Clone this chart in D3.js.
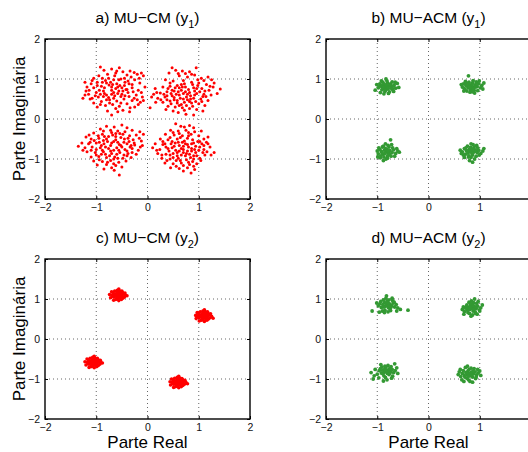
<!DOCTYPE html>
<html lang="pt">
<head>
    <meta charset="UTF-8">
    <title>MU-CM vs MU-ACM</title>
    <script src="https://d3js.org/d3.v7.min.js"></script>
    <style>
        body { margin: 0; background: #fff; }
        svg { display: block; font-family: "Liberation Sans", Arial, sans-serif; }
        .tick text { font-size: 10.5px; fill: #111; }
        .grid { stroke: #666; stroke-width: 1; stroke-dasharray: 1,3; }
        .frame { fill: none; stroke: #000; stroke-width: 1.4; }
    </style>
</head>
<body>
<div id="chart"></div>
<script>
// eixos
const ticks = [-2, -1, 0, 1, 2];
const gridTicks = [-1, 0, 1];
const titles = ["a) MU\u2212CM (y", "b) MU\u2212ACM (y", "c) MU\u2212CM (y", "d) MU\u2212ACM (y"];
const subs = ["1", "1", "2", "2"];
const colors = ["#ff0000", "#339933", "#ff0000", "#339933"];
const radii = [1.5, 1.9, 1.8, 1.9];

// a) MU-CM (y1)
const ptsA = [
[-0.92,1.30],[-0.85,1.22],[-0.70,1.25],[-0.55,1.28],[-0.48,1.18],[-0.62,1.15],[-0.78,1.12],[-0.95,1.08],[-1.05,1.02],[-0.40,1.10],[-0.32,1.05],[-0.20,1.12],[-0.12,1.15],[-0.08,1.08],[-0.25,0.98],[-0.38,0.95],[-0.52,1.00],[-0.66,0.98],[-0.82,0.96],[-0.98,0.92],[-1.10,0.88],[-1.18,0.80],[-1.05,0.78],[-0.90,0.82],[-0.75,0.85],[-0.60,0.88],[-0.45,0.84],[-0.30,0.86],[-0.15,0.90],[-0.05,0.80],[-0.18,0.72],[-0.28,0.68],[-0.42,0.74],[-0.56,0.70],[-0.70,0.72],[-0.86,0.70],[-1.00,0.66],[-1.15,0.62],[-1.26,0.52],[-1.12,0.50],[-0.96,0.55],[-0.80,0.60],[-0.64,0.58],[-0.50,0.62],[-0.36,0.56],[-0.22,0.60],[-0.10,0.55],[-0.14,0.42],[-0.30,0.46],[-0.46,0.50],[-0.60,0.45],[-0.74,0.48],[-0.90,0.44],[-1.05,0.40],[-0.98,0.30],[-0.82,0.34],[-0.68,0.36],[-0.55,0.32],[-0.40,0.38],[-0.25,0.30],[-0.48,0.22],[-0.62,0.26],[-0.78,0.20],[-0.35,0.18],[-0.70,0.10],[-0.88,0.92],[-0.72,0.92],[-0.58,0.80],[-0.44,0.92],[-0.66,0.66],[-0.52,0.56],[-0.84,0.78],[-0.94,0.72],[-0.76,0.54],[-0.62,0.76],[-0.38,0.66],[-0.30,0.78],[-0.48,0.70],[-0.56,0.98],[-0.88,1.02],[-1.02,0.58],[-1.20,0.70],[-0.20,0.48],[-0.12,0.66],[-0.34,1.20],[-0.64,1.08],[-0.80,0.48],[-0.92,0.62],[-0.70,0.80],[-0.54,0.84],
[-1.22,0.92],[-1.08,0.96],[-0.76,1.02],[-0.60,1.20],[-0.45,1.02],[-0.26,1.16],[-0.16,1.02],[-0.36,0.88],[-0.50,0.78],[-0.68,0.86],[-0.98,0.84],[-1.14,0.72],[-0.84,0.64],[-0.70,0.62],[-0.58,0.64],[-0.44,0.58],[-0.26,0.52],[-0.08,0.46],[-0.18,0.36],[-0.34,0.28],[-0.52,0.40],[-0.66,0.52],[-0.86,0.56],[-1.08,0.52],[-1.22,0.60],[-0.92,0.36],[-0.74,0.40],[-0.58,0.18],[-0.40,0.74],[-0.80,0.90],
[0.55,1.22],[0.68,1.20],[0.82,1.18],[0.95,1.28],[0.42,1.15],[0.62,1.08],[0.78,1.05],[0.92,1.10],[1.05,1.02],[1.18,1.05],[1.25,0.98],[0.35,0.98],[0.50,0.95],[0.70,0.96],[0.86,0.92],[1.00,0.90],[1.15,0.86],[1.30,0.90],[1.42,0.75],[0.30,0.80],[0.44,0.82],[0.58,0.84],[0.74,0.80],[0.90,0.78],[1.06,0.76],[1.20,0.72],[0.15,0.76],[0.25,0.65],[0.38,0.68],[0.52,0.70],[0.66,0.72],[0.82,0.66],[0.96,0.64],[1.10,0.62],[1.24,0.60],[0.08,0.55],[0.20,0.52],[0.34,0.55],[0.48,0.58],[0.62,0.60],[0.76,0.55],[0.90,0.52],[1.04,0.50],[1.18,0.46],[0.30,0.42],[0.44,0.45],[0.58,0.46],[0.72,0.42],[0.86,0.40],[1.00,0.38],[1.12,0.34],[0.05,0.28],[0.40,0.32],[0.54,0.30],[0.68,0.28],[0.82,0.26],[0.96,0.24],[1.08,0.20],[0.60,0.16],[0.75,0.12],[0.90,0.10],[0.50,0.20],[0.64,0.52],[0.78,0.48],[0.70,0.64],[0.84,0.58],[0.56,0.62],[0.92,0.70],[0.48,0.72],[0.62,0.78],[0.80,0.74],[1.02,0.68],[0.38,0.58],[0.26,0.48],[0.12,0.62],[0.72,0.88],[0.88,0.86],[0.58,0.40],[0.94,0.44],[1.14,0.56],[0.66,0.36],[0.76,0.34],[0.44,0.90],[1.22,0.82],[0.98,0.98],[0.86,1.12],[0.74,0.68],[0.66,0.86],[0.52,0.48],[0.84,0.50],
[0.48,1.28],[0.60,1.14],[0.74,1.14],[1.10,0.96],[1.28,0.80],[0.40,0.76],[0.54,0.78],[0.68,0.80],[0.96,0.76],[1.12,0.70],[0.18,0.66],[0.32,0.62],[0.46,0.64],[0.60,0.68],[0.78,0.62],[0.92,0.60],[1.08,0.56],[0.16,0.42],[0.38,0.48],[0.52,0.54],[0.70,0.50],[0.82,0.44],[1.06,0.44],[0.46,0.38],[0.62,0.34],[0.88,0.32],[0.72,0.22],[0.36,0.24],[1.36,0.64],[0.98,0.84],
[-0.80,-0.18],[-0.65,-0.20],[-0.50,-0.15],[-0.40,-0.22],[-0.92,-0.25],[-0.72,-0.28],[-0.58,-0.30],[-0.30,-0.28],[-0.15,-0.32],[-1.05,-0.35],[-0.88,-0.38],[-0.68,-0.40],[-0.48,-0.38],[-0.35,-0.42],[-0.22,-0.40],[-0.08,-0.38],[-1.20,-0.45],[-1.10,-0.50],[-0.95,-0.48],[-0.80,-0.50],[-0.62,-0.52],[-0.45,-0.50],[-0.28,-0.52],[-0.12,-0.55],[-1.28,-0.60],[-1.15,-0.62],[-1.00,-0.60],[-0.85,-0.62],[-0.70,-0.60],[-0.55,-0.64],[-0.40,-0.62],[-0.25,-0.65],[-0.10,-0.66],[-1.35,-0.68],[-1.22,-0.72],[-1.08,-0.70],[-0.92,-0.72],[-0.76,-0.74],[-0.60,-0.72],[-0.44,-0.76],[-0.30,-0.74],[-0.18,-0.78],[-1.18,-0.82],[-1.02,-0.84],[-0.86,-0.82],[-0.70,-0.86],[-0.54,-0.84],[-0.38,-0.86],[-0.22,-0.88],[-1.10,-0.95],[-0.95,-0.94],[-0.80,-0.96],[-0.64,-0.95],[-0.48,-0.98],[-0.32,-0.96],[-1.05,-1.05],[-0.88,-1.06],[-0.72,-1.04],[-0.56,-1.08],[-0.42,-1.05],[-0.98,-1.15],[-0.80,-1.14],[-0.62,-1.16],[-0.50,-1.20],[-0.85,-1.25],[-0.65,-1.28],[-0.55,-1.40],[-0.72,-0.66],[-0.58,-0.58],[-0.66,-0.78],[-0.82,-0.70],[-0.50,-0.70],[-0.36,-0.56],[-0.94,-0.58],[-0.78,-0.56],[-0.62,-0.44],[-0.46,-0.90],[-0.74,-0.92],[-0.90,-0.88],[-1.12,-0.58],[-0.26,-0.60],[-0.16,-0.48],[-0.54,-0.36],[-0.70,-0.34],[-0.84,-0.44],[-0.40,-0.80],[-0.60,-0.88],[-1.00,-0.76],[-0.30,-0.84],[-0.66,-1.00],
[-0.86,-0.30],[-0.62,-0.36],[-0.44,-0.32],[-1.14,-0.40],[-0.96,-0.42],[-0.76,-0.44],[-0.52,-0.46],[-0.38,-0.48],[-1.04,-0.54],[-0.86,-0.54],[-0.66,-0.56],[-0.46,-0.58],[-0.32,-0.66],[-1.26,-0.78],[-1.10,-0.78],[-0.88,-0.78],[-0.72,-0.80],[-0.56,-0.78],[-0.34,-0.70],[-0.14,-0.70],[-1.00,-0.90],[-0.82,-0.88],[-0.58,-0.98],[-0.40,-0.92],[-0.94,-1.02],[-0.78,-1.08],[-0.66,-1.12],[-0.90,-0.66],[-0.52,-0.66],[-0.70,-1.22],
[0.55,-0.12],[0.65,-0.18],[0.82,-0.16],[0.90,-0.22],[0.45,-0.28],[0.60,-0.30],[0.75,-0.28],[1.05,-0.30],[0.35,-0.38],[0.52,-0.40],[0.68,-0.42],[0.85,-0.38],[1.00,-0.42],[1.18,-0.45],[0.25,-0.50],[0.40,-0.52],[0.58,-0.50],[0.72,-0.55],[0.88,-0.52],[1.02,-0.56],[1.15,-0.58],[0.15,-0.62],[0.30,-0.64],[0.46,-0.62],[0.62,-0.66],[0.78,-0.64],[0.94,-0.68],[1.10,-0.66],[1.22,-0.70],[0.10,-0.72],[0.24,-0.76],[0.40,-0.74],[0.55,-0.78],[0.70,-0.76],[0.86,-0.80],[1.00,-0.78],[1.16,-0.82],[1.30,-0.84],[0.20,-0.86],[0.36,-0.88],[0.50,-0.86],[0.66,-0.90],[0.82,-0.88],[0.96,-0.92],[1.12,-0.90],[0.28,-0.98],[0.44,-1.00],[0.60,-0.98],[0.76,-1.02],[0.90,-1.00],[1.04,-1.04],[0.34,-1.10],[0.50,-1.12],[0.66,-1.10],[0.82,-1.14],[0.96,-1.12],[0.45,-1.22],[0.62,-1.24],[0.78,-1.22],[0.92,-1.26],[0.85,-1.35],[0.70,-1.30],[0.60,-0.58],[0.74,-0.62],[0.66,-0.74],[0.80,-0.70],[0.52,-0.68],[0.90,-0.60],[0.70,-0.84],[0.58,-0.92],[0.84,-0.96],[0.48,-0.56],[0.64,-0.46],[0.78,-0.48],[0.94,-0.84],[1.06,-0.62],[0.36,-0.70],[0.42,-0.80],[0.74,-0.92],[0.88,-1.06],[0.56,-1.04],[0.70,-1.16],[0.98,-0.56],[0.62,-0.36],[0.80,-0.34],[0.30,-0.56],[1.10,-0.76],[0.50,-0.96],[0.86,-0.74],[0.68,-0.58],
[0.72,-0.20],[0.50,-0.34],[0.92,-0.32],[0.44,-0.46],[0.80,-0.42],[1.10,-0.50],[0.34,-0.62],[0.54,-0.60],[0.70,-0.68],[0.86,-0.62],[1.02,-0.70],[1.18,-0.62],[0.18,-0.78],[0.48,-0.72],[0.62,-0.80],[0.78,-0.80],[0.92,-0.76],[1.08,-0.84],[1.24,-0.90],[0.28,-0.90],[0.44,-0.90],[0.58,-0.84],[0.76,-0.86],[0.90,-0.92],[1.02,-0.98],[0.38,-1.04],[0.64,-1.04],[0.80,-1.08],[0.56,-1.18],[0.90,-1.18]
];

// b) MU-ACM (y1)
const ptsB = [
[-0.82,0.80],[-0.77,0.83],[-0.88,0.82],[-0.79,0.75],[-0.86,0.76],[-0.72,0.81],[-0.93,0.84],[-0.80,0.90],[-0.85,0.69],[-0.74,0.88],[-0.91,0.73],[-0.70,0.74],[-0.95,0.88],[-0.76,0.68],[-0.89,0.92],[-0.67,0.85],[-0.98,0.78],[-0.81,0.95],[-0.78,0.64],[-0.64,0.77],[-1.01,0.86],[-0.71,0.93],[-0.94,0.66],[-0.68,0.69],[-0.92,0.95],[-0.61,0.89],[-1.04,0.72],[-0.75,0.85],[-0.87,0.87],[-0.73,0.77],[-0.84,0.72],[-0.69,0.82],[-0.90,0.79],[-0.82,0.86],[-0.79,0.78],[-0.96,0.81],[-0.65,0.92],[-0.87,0.63],[-0.58,0.79],[-0.83,1.00],
[0.84,0.82],[0.80,0.86],[0.88,0.79],[0.91,0.85],[0.77,0.78],[0.86,0.90],[0.82,0.74],[0.95,0.81],[0.73,0.84],[0.89,0.72],[0.79,0.92],[0.98,0.88],[0.70,0.76],[0.93,0.93],[0.75,0.70],[1.01,0.78],[0.68,0.88],[0.87,0.96],[0.81,0.67],[1.04,0.84],[0.66,0.80],[0.96,0.71],[0.72,0.94],[0.90,0.65],[0.64,0.86],[1.06,0.75],[0.78,1.08],[0.85,0.85],[0.83,0.77],[0.92,0.80],[0.76,0.83],[0.87,0.74],[0.80,0.80],[0.94,0.90],[0.71,0.73],[0.99,0.95],[0.86,0.68],[0.74,0.90],[1.08,0.90],[0.69,0.70],
[-0.82,-0.82],[-0.86,-0.78],[-0.78,-0.85],[-0.89,-0.88],[-0.75,-0.79],[-0.84,-0.74],[-0.92,-0.81],[-0.80,-0.92],[-0.71,-0.84],[-0.95,-0.76],[-0.87,-0.95],[-0.68,-0.77],[-0.77,-0.70],[-0.98,-0.87],[-0.73,-0.93],[-0.90,-0.70],[-0.64,-0.86],[-1.00,-0.80],[-0.83,-1.00],[-0.70,-0.72],[-0.94,-0.97],[-0.79,-0.66],[-0.60,-0.80],[-0.88,-1.04],[-0.74,-0.52],[-0.97,-0.72],[-0.66,-0.93],[-0.85,-0.86],[-0.81,-0.76],[-0.76,-0.88],[-0.91,-0.84],[-0.79,-0.80],[-0.72,-0.64],[-0.88,-0.68],[-0.93,-0.92],[-0.62,-0.74],[-0.84,-0.62],[-0.57,-0.83],[-0.99,-0.95],[-0.80,-0.98],
[0.84,-0.80],[0.80,-0.76],[0.88,-0.83],[0.77,-0.85],[0.91,-0.77],[0.82,-0.71],[0.86,-0.90],[0.74,-0.79],[0.95,-0.84],[0.79,-0.92],[0.89,-0.70],[0.70,-0.74],[0.98,-0.78],[0.83,-0.96],[0.72,-0.88],[0.93,-0.93],[0.87,-0.64],[0.66,-0.82],[1.02,-0.86],[0.76,-0.68],[0.96,-0.72],[0.68,-0.90],[0.90,-1.00],[0.62,-0.78],[1.06,-0.80],[0.80,-1.04],[0.85,-0.86],[0.81,-0.82],[0.92,-0.80],[0.76,-0.80],[0.87,-0.75],[0.78,-0.95],[0.99,-0.90],[0.73,-0.72],[0.94,-0.66],[0.64,-0.86],[1.08,-0.74],[0.86,-1.08],[0.83,-0.62],[0.70,-0.96]
];

// c) MU-CM (y2)
const ptsC = [
[-0.57,1.10],[-0.53,1.13],[-0.61,1.07],[-0.55,1.04],[-0.60,1.15],[-0.50,1.08],[-0.64,1.12],[-0.58,1.18],[-0.52,1.02],[-0.66,1.05],[-0.47,1.12],[-0.62,0.99],[-0.54,1.20],[-0.69,1.10],[-0.45,1.05],[-0.59,1.22],[-0.67,1.16],[-0.49,1.17],[-0.72,1.03],[-0.43,1.10],[-0.56,0.96],[-0.64,1.20],[-0.51,0.99],[-0.74,1.11],[-0.40,1.08],[-0.60,1.02],[-0.55,1.14],[-0.58,1.08],[-0.63,1.09],[-0.52,1.11],[-0.48,1.02],[-0.70,1.18],[-0.56,1.25],[-0.66,0.97],[-0.44,1.15],[-0.61,1.12],[-0.53,1.06],[-0.68,1.07],[-0.59,1.00],[-0.50,1.20],
[1.10,0.58],[1.14,0.61],[1.06,0.55],[1.12,0.52],[1.07,0.63],[1.17,0.56],[1.03,0.60],[1.09,0.66],[1.15,0.50],[1.01,0.53],[1.20,0.60],[1.05,0.47],[1.13,0.68],[0.98,0.58],[1.22,0.53],[1.08,0.70],[1.00,0.64],[1.18,0.65],[0.95,0.51],[1.25,0.57],[1.11,0.44],[1.03,0.68],[1.16,0.47],[0.94,0.59],[1.28,0.52],[1.07,0.50],[1.12,0.62],[1.09,0.56],[1.04,0.57],[1.15,0.59],[1.19,0.50],[0.97,0.66],[1.11,0.73],[1.01,0.45],[1.23,0.63],[1.06,0.60],[1.14,0.54],[0.99,0.55],[1.08,0.48],[1.17,0.68],
[-1.05,-0.58],[-1.01,-0.55],[-1.09,-0.61],[-1.03,-0.64],[-1.08,-0.53],[-0.98,-0.60],[-1.12,-0.56],[-1.06,-0.50],[-1.00,-0.66],[-1.14,-0.63],[-0.95,-0.56],[-1.10,-0.69],[-1.02,-0.48],[-1.17,-0.58],[-0.93,-0.63],[-1.07,-0.46],[-1.15,-0.52],[-0.97,-0.51],[-1.20,-0.65],[-0.91,-0.58],[-1.04,-0.72],[-1.12,-0.48],[-0.99,-0.69],[-1.22,-0.57],[-0.88,-0.60],[-1.08,-0.66],[-1.03,-0.54],[-1.06,-0.60],[-1.11,-0.59],[-1.00,-0.57],[-0.96,-0.66],[-1.18,-0.50],[-1.04,-0.43],[-1.14,-0.71],[-0.92,-0.53],[-1.09,-0.56],[-1.01,-0.62],[-1.16,-0.61],[-1.07,-0.68],[-0.98,-0.48],
[0.60,-1.08],[0.64,-1.05],[0.56,-1.11],[0.62,-1.14],[0.57,-1.03],[0.67,-1.10],[0.53,-1.06],[0.59,-1.00],[0.65,-1.16],[0.51,-1.13],[0.70,-1.06],[0.55,-1.19],[0.63,-0.98],[0.48,-1.08],[0.72,-1.13],[0.58,-0.96],[0.50,-1.02],[0.68,-1.01],[0.45,-1.15],[0.75,-1.08],[0.61,-1.22],[0.53,-0.98],[0.66,-1.19],[0.44,-1.07],[0.78,-1.12],[0.57,-1.16],[0.62,-1.04],[0.59,-1.10],[0.54,-1.09],[0.65,-1.07],[0.69,-1.16],[0.47,-1.00],[0.61,-0.93],[0.51,-1.21],[0.73,-1.03],[0.56,-1.06],[0.64,-1.12],[0.49,-1.11],[0.58,-1.18],[0.67,-0.99]
];

// d) MU-ACM (y2)
const ptsD = [
[-0.80,0.85],[-0.76,0.88],[-0.84,0.82],[-0.78,0.78],[-0.86,0.91],[-0.72,0.84],[-0.89,0.86],[-0.81,0.95],[-0.75,0.75],[-0.92,0.79],[-0.69,0.90],[-0.85,0.72],[-0.77,0.98],[-0.95,0.88],[-0.66,0.80],[-0.83,1.02],[-0.90,0.70],[-0.70,0.96],[-0.98,0.83],[-0.63,0.86],[-0.79,0.68],[-0.88,0.98],[-0.74,0.71],[-1.01,0.90],[-0.60,0.78],[-0.82,1.08],[-1.10,0.70],[-0.40,0.72],[-0.55,0.74],[-0.96,0.67],[-0.78,0.84],[-0.82,0.88],[-0.73,0.80],[-0.87,0.80],[-0.79,0.91],[-0.67,0.92],[-0.93,0.94],[-0.86,0.66],[-0.71,1.02],[-0.62,0.70],
[0.85,0.77],[0.89,0.80],[0.81,0.74],[0.87,0.70],[0.82,0.83],[0.93,0.76],[0.78,0.79],[0.86,0.87],[0.91,0.68],[0.76,0.72],[0.96,0.82],[0.80,0.64],[0.88,0.91],[0.73,0.77],[0.99,0.73],[0.84,0.95],[0.75,0.85],[0.94,0.89],[0.70,0.69],[1.02,0.78],[0.86,0.60],[0.79,0.92],[0.92,0.64],[0.68,0.80],[1.05,0.85],[0.83,0.57],[0.97,0.94],[0.66,0.74],[0.90,1.00],[0.77,0.66],[0.84,0.80],[0.88,0.74],[0.80,0.77],[0.92,0.80],[0.74,0.82],[1.00,0.70],[0.82,0.88],[0.69,0.62],[0.95,0.62],[0.87,0.84],
[-0.82,-0.80],[-0.78,-0.77],[-0.86,-0.83],[-0.80,-0.86],[-0.85,-0.74],[-0.74,-0.81],[-0.89,-0.78],[-0.83,-0.70],[-0.77,-0.89],[-0.92,-0.85],[-0.71,-0.76],[-0.87,-0.92],[-0.79,-0.66],[-0.96,-0.79],[-0.68,-0.84],[-0.84,-0.96],[-0.91,-0.70],[-0.73,-0.69],[-1.00,-0.88],[-0.65,-0.79],[-0.81,-1.02],[-0.93,-0.64],[-0.70,-0.93],[-1.04,-0.76],[-0.62,-0.72],[-0.88,-1.05],[-1.12,-0.84],[-0.97,-0.97],[-0.66,-0.62],[-1.06,-0.92],[-0.80,-0.82],[-0.84,-0.78],[-0.75,-0.85],[-0.89,-0.87],[-0.76,-0.74],[-0.94,-0.74],[-0.85,-0.68],[-0.72,-0.98],[-1.08,-1.00],[-0.60,-0.86],
[0.80,-0.86],[0.84,-0.83],[0.76,-0.89],[0.82,-0.92],[0.77,-0.80],[0.88,-0.87],[0.73,-0.84],[0.79,-0.76],[0.86,-0.95],[0.70,-0.91],[0.91,-0.82],[0.75,-0.98],[0.83,-0.73],[0.66,-0.86],[0.94,-0.90],[0.78,-1.02],[0.68,-0.79],[0.89,-0.74],[0.63,-0.94],[0.97,-0.85],[0.81,-1.06],[0.72,-0.71],[0.92,-0.99],[0.60,-0.82],[1.00,-0.80],[0.76,-0.68],[0.65,-1.02],[0.96,-0.76],[0.58,-0.89],[0.86,-1.08],[0.80,-0.88],[0.84,-0.90],[0.75,-0.84],[0.87,-0.80],[0.71,-0.95],[0.93,-0.95],[0.78,-0.93],[0.62,-0.76],[1.02,-0.91],[0.69,-1.06]
];

const panelData = [ptsA, ptsB, ptsC, ptsD];

// layout
const W = 528, H = 452;
const pw = 205, ph = 160;
const origins = [[45, 39], [326, 39], [45, 259], [326, 259]];

const svg = d3.select("#chart").append("svg")
    .attr("width", W).attr("height", H);

const x = d3.scaleLinear().domain([-2, 2]).range([0, pw]);
const y = d3.scaleLinear().domain([-2, 2]).range([ph, 0]);

panelData.forEach((pts, i) => {
    const [ox, oy] = origins[i];
    const g = svg.append("g").attr("transform", `translate(${ox},${oy})`);

    // grelha pontilhada
    g.selectAll(".gx").data(gridTicks).enter().append("line")
        .attr("class", "grid")
        .attr("x1", d => x(d)).attr("x2", d => x(d))
        .attr("y1", 0).attr("y2", ph);
    g.selectAll(".gy").data(gridTicks).enter().append("line")
        .attr("class", "grid")
        .attr("y1", d => y(d)).attr("y2", d => y(d))
        .attr("x1", 0).attr("x2", pw);

    // pontos
    g.append("g").selectAll("circle").data(pts).enter().append("circle")
        .attr("cx", d => x(d[0]))
        .attr("cy", d => y(d[1]))
        .attr("r", radii[i])
        .attr("fill", colors[i]);

    // eixos com ticks para dentro
    const fmt = d3.format("d");
    g.append("g").attr("transform", `translate(0,${ph})`)
        .call(d3.axisBottom(x).tickValues(ticks).tickSizeInner(-3).tickSizeOuter(0).tickPadding(5).tickFormat(fmt));
    g.append("g")
        .call(d3.axisLeft(y).tickValues(ticks).tickSizeInner(-3).tickSizeOuter(0).tickPadding(5).tickFormat(fmt));
    g.append("g")
        .call(d3.axisTop(x).tickValues(ticks).tickSizeInner(-3).tickSizeOuter(0).tickFormat(""));
    g.append("g").attr("transform", `translate(${pw},0)`)
        .call(d3.axisRight(y).tickValues(ticks).tickSizeInner(-3).tickSizeOuter(0).tickFormat(""));
    g.selectAll(".domain").remove();
    g.selectAll(".tick line").attr("stroke", "#000");
    g.selectAll(".tick text").attr("font-family", null).attr("font-size", null);

    g.append("rect").attr("class", "frame")
        .attr("width", pw).attr("height", ph);

    // título
    const t = g.append("text")
        .attr("x", pw / 2).attr("y", -16)
        .attr("text-anchor", "middle")
        .attr("font-size", 15.5);
    t.append("tspan").text(titles[i]);
    t.append("tspan").attr("dy", 5).attr("font-size", 11).text(subs[i]);
    t.append("tspan").attr("dy", -5).text(")");

    if (i % 2 === 0) {
        g.append("text")
            .attr("transform", `translate(-20,${ph / 2}) rotate(-90)`)
            .attr("text-anchor", "middle")
            .attr("font-size", 17)
            .text("Parte Imaginária");
    }
    if (i >= 2) {
        g.append("text")
            .attr("x", pw / 2).attr("y", ph + 29)
            .attr("text-anchor", "middle")
            .attr("font-size", 17)
            .text("Parte Real");
    }
});
</script>
</body>
</html>
